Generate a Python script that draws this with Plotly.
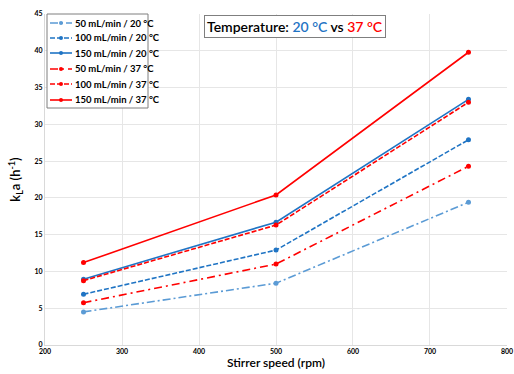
import plotly.graph_objects as go

speeds = [250, 500, 750]
names = ["50 mL/min / 20 °C", "100 mL/min / 20 °C", "150 mL/min / 20 °C",
         "50 mL/min / 37 °C", "100 mL/min / 37 °C", "150 mL/min / 37 °C"]
kla_50_20 = [4.5, 8.4, 19.4]
kla_100_20 = [6.9, 12.9, 27.9]
kla_150_20 = [8.95, 16.7, 33.4]
kla_50_37 = [5.75, 11.0, 24.3]
kla_100_37 = [8.75, 16.3, 33.0]
kla_150_37 = [11.2, 20.4, 39.8]
series = [kla_50_20, kla_100_20, kla_150_20, kla_50_37, kla_100_37, kla_150_37]
colors = ["#5B9BD5", "#1F74C4", "#1F74C4", "#FF0000", "#FF0000", "#FF0000"]
dashes = ["8px,3px,2px,3px", "5px,2px", "solid", "8px,4px,2px,4px", "5px,2px", "solid"]

W, H = 514, 374
ML, MR, MT, MB = 45, 7, 14, 29
PW, PH = W - ML - MR, H - MT - MB


def px(X):
    return (X - ML) / PW


def py(Y):
    return (H - MB - Y) / PH


fig = go.Figure()
for n, s, c, d in zip(names, series, colors, dashes):
    fig.add_trace(go.Scatter(x=speeds, y=s, name=n, mode="lines+markers",
                             line=dict(color=c, width=1.6, dash=d),
                             marker=dict(color=c, size=5), showlegend=False))

# custom compact legend (box + samples + labels)
shapes = [dict(type="rect", xref="paper", yref="paper",
               x0=px(47), x1=px(148), y0=py(108), y1=py(14),
               line=dict(color="#7f7f7f", width=1), fillcolor="white", layer="above")]
annotations = []
row_y = [23, 38, 53, 69, 84, 100]
for n, c, d, ry in zip(names, colors, dashes, row_y):
    shapes.append(dict(type="line", xref="paper", yref="paper",
                       x0=px(50), x1=px(72), y0=py(ry), y1=py(ry),
                       line=dict(color=c, width=1.6, dash=d), layer="above"))
    shapes.append(dict(type="circle", xref="paper", yref="paper",
                       x0=px(59), x1=px(63), y0=py(ry + 2), y1=py(ry - 2),
                       line=dict(color=c, width=0), fillcolor=c, layer="above"))
    annotations.append(dict(text=n, xref="paper", yref="paper", x=px(73), y=py(ry),
                            xanchor="left", yanchor="middle", showarrow=False,
                            font=dict(size=9.5, family="Lato", color="black", weight="bold")))

annotations.append(dict(
    text="Temperature: <span style='color:#1F74C4'>20 °C</span> vs <span style='color:#FF0000'>37 °C</span>",
    x=px(204), y=py(15), xref="paper", yref="paper", xanchor="left", yanchor="top",
    showarrow=False, font=dict(size=14, family="Lato", color="black", weight=600),
    bordercolor="#7f7f7f", borderwidth=1, borderpad=2, bgcolor="white"))

fig.update_layout(
    width=W, height=H,
    margin=dict(l=ML, r=MR, t=MT, b=MB, autoexpand=False),
    paper_bgcolor="white", plot_bgcolor="white",
    font=dict(family="Lato, Open Sans, sans-serif", color="black"),
    showlegend=False,
    xaxis=dict(range=[200, 800.01], tickvals=[200, 300, 400, 500, 600, 700, 800],
               showgrid=True, gridcolor="#e6e6e6",
               showline=True, linecolor="#d9d9d9", zeroline=False, automargin=False,
               ticks="", ticklen=0, tickfont=dict(size=7, family="Lato", weight="bold"),
               title=dict(text="Stirrer speed (rpm)", font=dict(size=12, family="Lato", weight=600), standoff=2)),
    yaxis=dict(range=[0, 45], dtick=5, showgrid=True, gridcolor="#e6e6e6",
               showline=True, linecolor="#d9d9d9", zeroline=False, automargin=False,
               ticks="", tickfont=dict(size=7, family="Lato", weight="bold"),
               title=dict(text="k<sub>L</sub>a (h<sup>-1</sup>)", font=dict(size=13, family="Lato", weight=600), standoff=10)),
    shapes=shapes,
    annotations=annotations,
)
fig.write_html("out.html", config={"displayModeBar": False},
               post_script="document.body.style.margin='0';")
